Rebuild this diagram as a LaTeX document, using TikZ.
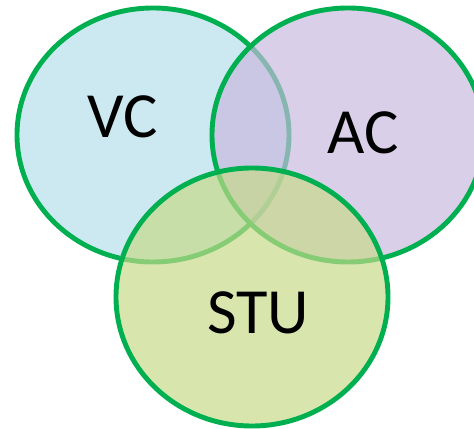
\documentclass[tikz,border=0pt]{standalone}
\usepackage{fontspec}
\setmainfont{Carlito}
\definecolor{vcfill}{RGB}{180,222,234}
\definecolor{acfill}{RGB}{200,184,222}
\definecolor{stufill}{RGB}{198,218,136}
\definecolor{ringgreen}{RGB}{0,176,80}
\def\ll{0.03}
\begin{document}
\begin{tikzpicture}[ring/.style={draw=ringgreen,line width=4.2pt,fill opacity=0.68},
  set label/.style={font=\fontsize{55}{60}\selectfont,inner sep=0pt}]
\useasboundingbox (0,0) rectangle (474*\ll,-429*\ll);
\clip (0,0) rectangle (474*\ll,-429*\ll);
\draw[ring,fill=vcfill]  (153*\ll,-135*\ll) ellipse [x radius=136*\ll, y radius=127*\ll];
\draw[ring,fill=acfill]  (348*\ll,-135*\ll) ellipse [x radius=136*\ll, y radius=127*\ll];
\draw[ring,fill=stufill] (252*\ll,-297*\ll) ellipse [x radius=136*\ll, y radius=129*\ll];
\node[set label] (vc)  at (123*\ll,-117*\ll) {VC};
\node[set label] (ac)  at (363*\ll,-133*\ll) {AC};
\node[set label] (stu) at (258*\ll,-313*\ll) {STU};
\end{tikzpicture}
\end{document}
